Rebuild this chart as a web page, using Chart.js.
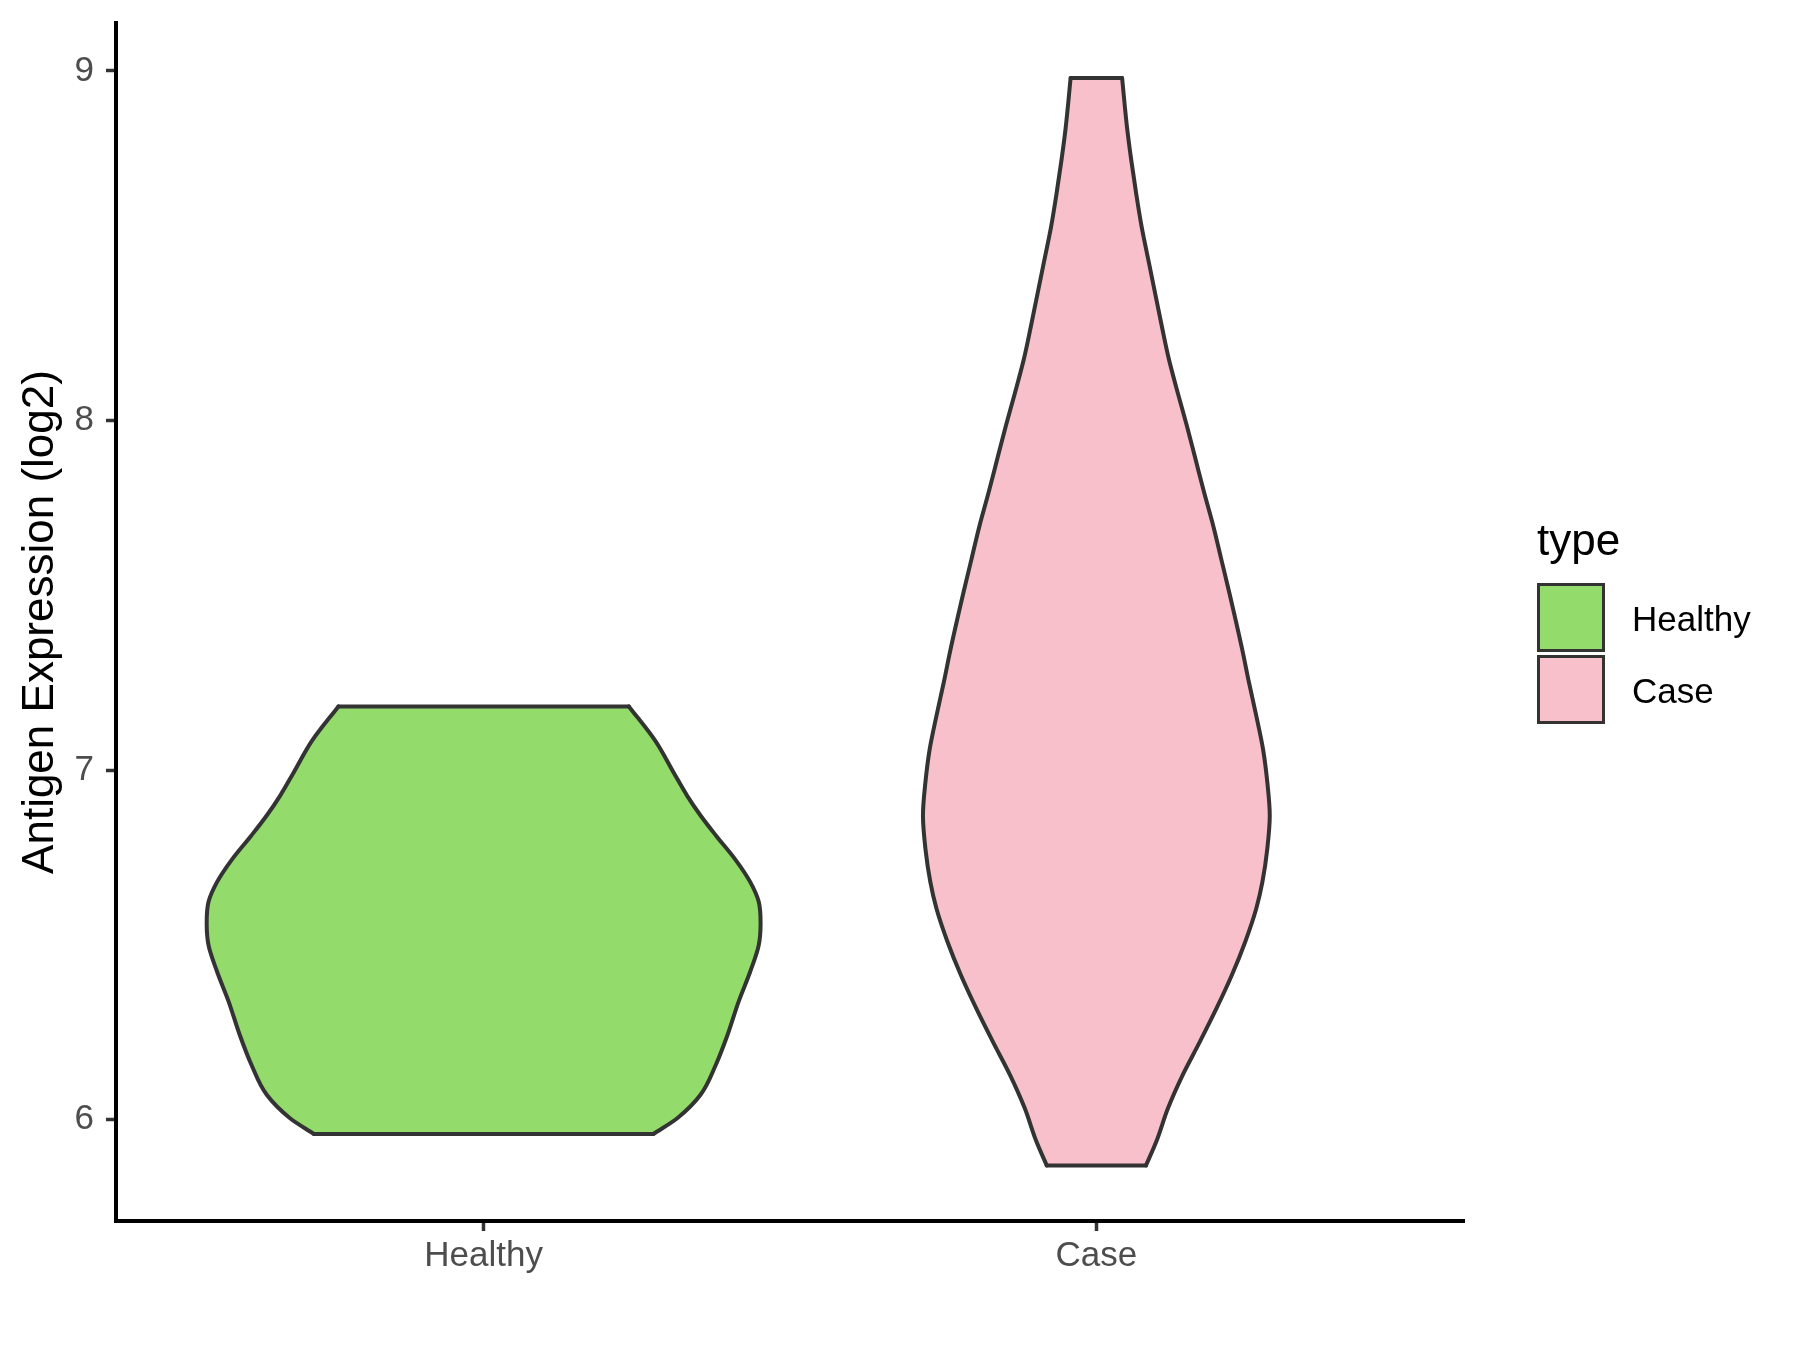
<!DOCTYPE html>
<html lang="en">
<head>
  <meta charset="UTF-8">
  <title>Antigen Expression (log2) - violin</title>
  <script src="https://cdn.jsdelivr.net/npm/chart.js"></script>
  <style>
    body {
      margin: 0;
      background: #ffffff;
      font-family: "Liberation Sans", Arial, sans-serif;
    }
    .wrap {
      position: relative;
      width: 1800px;
      height: 1350px;
    }
    /* legend on the right, like the ggplot guide */
    .legend-title {
      position: absolute;
      left: 1537px;
      top: 518px;
      font-size: 44px;
      line-height: 44px;
      color: #000;
    }
    .key {
      position: absolute;
      left: 1537px;
      width: 68px;
      height: 69px;
      box-sizing: border-box;
      border: 3.5px solid #333333;
    }
    .key-label {
      position: absolute;
      left: 1632px;
      font-size: 35px;
      line-height: 35px;
      color: #000;
    }
  </style>
</head>
<body>
  <div class="wrap">
    <canvas id="violin" width="1800" height="1350"></canvas>
    <div id="legend"></div>
  </div>

  <script>
    // Data
    const categories = ["Healthy", "Case"];
    const fillColors = ["#93DB6B", "#F8C0CB"];
    const yTicks = [6, 7, 8, 9];
    const yMin = 5.71;
    const yMax = 9.137;

    // density outline: y value and half width (in category units)
    const healthyY = [5.959, 6.004, 6.071, 6.157, 6.242, 6.337, 6.423, 6.499, 6.561,
                      6.623, 6.680, 6.746, 6.813, 6.870, 6.927, 6.993, 7.084, 7.182];
    const healthyHalf = [0.277, 0.316, 0.354, 0.379, 0.398, 0.416, 0.435, 0.449, 0.452,
                         0.449, 0.435, 0.410, 0.379, 0.354, 0.332, 0.310, 0.280, 0.237];

    const caseY = [5.869, 5.938, 6.033, 6.128, 6.223, 6.318, 6.413, 6.509, 6.604, 6.680,
                   6.775, 6.870, 6.965, 7.060, 7.155, 7.251, 7.345, 7.507, 7.602, 7.697,
                   7.793, 7.888, 7.983, 8.078, 8.178, 8.268, 8.363, 8.458, 8.553, 8.649,
                   8.744, 8.839, 8.980];
    const caseHalf = [0.081, 0.098, 0.117, 0.141, 0.169, 0.196, 0.221, 0.243, 0.261, 0.271,
                      0.279, 0.283, 0.279, 0.272, 0.261, 0.249, 0.238, 0.217, 0.204, 0.191,
                      0.176, 0.162, 0.148, 0.133, 0.118, 0.107, 0.096, 0.085, 0.074, 0.065,
                      0.057, 0.050, 0.042];

    const fontFamily = "'Liberation Sans', Arial, sans-serif";
    const edgeColor = "#333333";

    // one violin = left side (filled to the right side), right side, top cap, bottom cap
    function violinDatasets(name, center, ys, half, color) {
      const left = ys.map((y, i) => ({ x: center - half[i], y: y }));
      const right = ys.map((y, i) => ({ x: center + half[i], y: y }));
      const n = ys.length - 1;
      const base = {
        showLine: true,
        borderColor: edgeColor,
        borderWidth: 4,
        borderCapStyle: "round",
        pointRadius: 0,
        pointHoverRadius: 0,
        cubicInterpolationMode: "monotone", // smooth along y like a density curve
        fill: false
      };
      return [
        Object.assign({}, base, { label: name, data: left, fill: "+1", backgroundColor: color }),
        Object.assign({}, base, { label: name + " right", data: right }),
        Object.assign({}, base, { label: name + " top", data: [left[n], right[n]] }),
        Object.assign({}, base, { label: name + " bottom", data: [left[0], right[0]] })
      ];
    }

    const datasets = [].concat(
      violinDatasets(categories[0], 1, healthyY, healthyHalf, fillColors[0]),
      violinDatasets(categories[1], 2, caseY, caseHalf, fillColors[1])
    );

    const ctx = document.getElementById("violin").getContext("2d");
    const chart = new Chart(ctx, {
      type: "scatter",
      data: { datasets: datasets },
      options: {
        indexAxis: "y",
        responsive: false,
        animation: false,
        layout: { padding: { left: 0, top: 23, right: 336, bottom: 0 } },
        plugins: {
          legend: { display: false },
          tooltip: { enabled: false },
          filler: { drawTime: "beforeDatasetsDraw" } // fills first, outlines on top
        },
        scales: {
          x: {
            type: "linear",
            min: 0.4,
            max: 2.6,
            afterBuildTicks: (s) => { s.ticks = categories.map((c, i) => ({ value: i + 1 })); },
            afterFit: (s) => { s.height = 129; s.paddingLeft = 0; s.paddingRight = 0; },
            ticks: {
              callback: (v) => categories[Math.round(v) - 1],
              font: { family: fontFamily, size: 35 },
              color: "#4D4D4D",
              padding: 4,
              maxRotation: 0
            },
            grid: {
              drawOnChartArea: false,
              drawTicks: true,
              tickLength: 10,
              tickColor: edgeColor,
              tickWidth: 3.5
            },
            border: { color: "#000000", width: 4 }
          },
          y: {
            type: "linear",
            min: yMin,
            max: yMax,
            afterBuildTicks: (s) => { s.ticks = yTicks.map((v) => ({ value: v })); },
            afterFit: (s) => { s.width = 116; s.paddingTop = 0; s.paddingBottom = 0; },
            ticks: {
              font: { family: fontFamily, size: 35 },
              color: "#4D4D4D",
              padding: 12
            },
            grid: {
              drawOnChartArea: false,
              drawTicks: true,
              tickLength: 10,
              tickColor: edgeColor,
              tickWidth: 3.5
            },
            border: { color: "#000000", width: 4 },
            title: {
              display: true,
              text: "Antigen Expression (log2)",
              font: { family: fontFamily, size: 44 },
              color: "#000000",
              padding: { top: 14, bottom: 0 }
            }
          }
        }
      }
    });

    // legend
    const legend = document.getElementById("legend");
    const title = document.createElement("div");
    title.className = "legend-title";
    title.textContent = "type";
    legend.appendChild(title);
    const keyTops = [583, 655];
    categories.forEach((name, i) => {
      const key = document.createElement("div");
      key.className = "key";
      key.style.top = keyTops[i] + "px";
      key.style.background = fillColors[i];
      legend.appendChild(key);
      const label = document.createElement("div");
      label.className = "key-label";
      label.style.top = (keyTops[i] + 18) + "px";
      label.textContent = name;
      legend.appendChild(label);
    });
  </script>
</body>
</html>
